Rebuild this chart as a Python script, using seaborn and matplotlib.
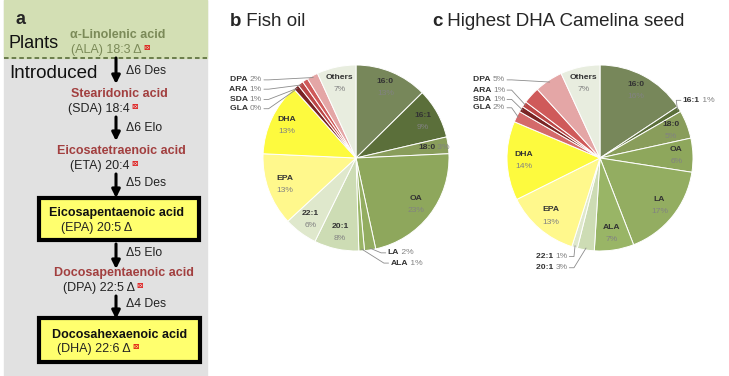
import numpy as np
import matplotlib
matplotlib.use("Agg")
import matplotlib.pyplot as plt
import seaborn as sns
from matplotlib.patches import Rectangle

sns.set_theme(style="white")
plt.rcParams['font.family'] = ['Liberation Sans', 'DejaVu Sans']

# ------------------------------------------------------------------------------
# DATA
# ------------------------------------------------------------------------------
fatty_acids = ["16:0", "16:1", "18:0", "OA", "LA", "ALA", "20:1", "22:1",
               "EPA", "DHA", "GLA", "SDA", "ARA", "ETA", "DPA", "Others"]
fish_oil_pct = [13, 9, 3, 23, 2, 1, 8, 6, 13, 13, 0, 1, 1, 1, 2, 7]
camelina_pct = [16, 1, 5, 6, 17, 7, 3, 1, 13, 14, 2, 1, 1, 3, 5, 7]

# pathway (panel a)
acid_names = ["α-Linolenic acid", "Stearidonic acid", "Eicosatetraenoic acid",
              "Eicosapentaenoic acid", "Docosapentaenoic acid", "Docosahexaenoic acid"]
acid_short = ["(ALA) 18:3 Δ", "(SDA) 18:4", "(ETA) 20:4",
              "(EPA) 20:5 Δ", "(DPA) 22:5 Δ", "(DHA) 22:6 Δ"]
enzymes = ["Δ6 Des", "Δ6 Elo", "Δ5 Des", "Δ5 Elo", "Δ4 Des"]

# ------------------------------------------------------------------------------
# STYLE
# ------------------------------------------------------------------------------
fa_colors = {
    "16:0": "#77875a", "16:1": "#5b6f3a", "18:0": "#899d5b", "OA": "#8ea75c",
    "LA": "#93ad61", "ALA": "#99b566", "20:1": "#cddcb4", "22:1": "#dfe8cc",
    "EPA": "#fff88c", "DHA": "#fdfa3e", "GLA": "#d46a6a", "SDA": "#7a2424",
    "ARA": "#bb4646", "ETA": "#cf5a5a", "DPA": "#e4a6a6", "Others": "#e8eddf",
}
name_color = "#333333"
pct_color = "#828282"
lab_fs = 6.1

fish_modes = {"16:0": "in", "16:1": "in", "18:0": "inline", "OA": "in", "LA": "out",
              "ALA": "out", "20:1": "in", "22:1": "in", "EPA": "in", "DHA": "in",
              "GLA": "out", "SDA": "out", "ARA": "out", "DPA": "out", "Others": "in"}
fish_out = {"LA": (0.34, -1.02), "ALA": (0.37, -1.13), "DPA": (-1.01, 0.84),
            "ARA": (-1.01, 0.74), "SDA": (-1.01, 0.63), "GLA": (-1.01, 0.53)}

cam_modes = {"16:0": "in", "16:1": "out", "18:0": "in", "OA": "in", "LA": "in",
             "ALA": "in", "20:1": "out", "22:1": "out", "EPA": "in", "DHA": "in",
             "GLA": "out", "SDA": "out", "ARA": "out", "DPA": "out", "Others": "in"}
cam_out = {"16:1": (0.89, 0.62), "22:1": (-0.35, -1.06), "20:1": (-0.35, -1.18),
           "DPA": (-1.02, 0.84), "ARA": (-1.02, 0.73), "SDA": (-1.02, 0.63),
           "GLA": (-1.02, 0.54)}


def draw_pie(ax, values, modes, out_pos):
    wedges, _ = ax.pie(values, startangle=90, counterclock=False,
                       colors=[fa_colors[f] for f in fatty_acids],
                       wedgeprops=dict(edgecolor="white", linewidth=0.7))
    ax.set_xlim(-1, 1)
    ax.set_ylim(-1, 1)
    ax.set_aspect("equal")
    ax.axis("off")
    for w, name, v in zip(wedges, fatty_acids, values):
        mode = modes.get(name)
        if mode is None:
            continue
        mid = np.deg2rad((w.theta1 + w.theta2) / 2)
        pct = f"{v}%"
        if mode == "in":
            x, y = 0.82 * np.cos(mid), 0.82 * np.sin(mid)
            ax.annotate(name, (x, y), xytext=(0, 4.4), textcoords="offset points",
                        ha="center", va="center", fontsize=lab_fs,
                        fontweight="bold", color=name_color)
            ax.annotate(pct, (x, y), xytext=(0, -4.4), textcoords="offset points",
                        ha="center", va="center", fontsize=lab_fs, color=pct_color)
        elif mode == "inline":
            x, y = 0.8 * np.cos(mid), 0.8 * np.sin(mid)
            t = ax.text(x + 0.06, y, name, ha="right", va="center", fontsize=lab_fs,
                        fontweight="bold", color=name_color)
            ax.annotate(" " + pct, (1, 0.5), xycoords=t, ha="left", va="center",
                        fontsize=lab_fs, color=pct_color)
        else:
            tx, ty = out_pos[name]
            ex, ey = np.cos(mid), np.sin(mid)
            if tx < 0:
                t = ax.text(tx, ty, pct, ha="right", va="center",
                            fontsize=lab_fs, color=pct_color)
                ax.annotate(name + " ", (0, 0.5), xycoords=t, ha="right", va="center",
                            fontsize=lab_fs, fontweight="bold", color=name_color)
                d = 1
            else:
                t = ax.text(tx, ty, name, ha="left", va="center", fontsize=lab_fs,
                            fontweight="bold", color=name_color)
                ax.annotate(" " + pct, (1, 0.5), xycoords=t, ha="left", va="center",
                            fontsize=lab_fs, color=pct_color)
                d = -1
            ax.plot([tx + d * 0.02, tx + d * 0.07, ex * 0.98],
                    [ty, ty, ey * 0.98], color="#8c8c8c", lw=0.6, clip_on=False)


# ------------------------------------------------------------------------------
# FIGURE
# ------------------------------------------------------------------------------
W, H = 729, 376
fig = plt.figure(figsize=(W / 100, H / 100), dpi=100)
ax0 = fig.add_axes([0, 0, 1, 1])
ax0.set_xlim(0, W)
ax0.set_ylim(H, 0)
ax0.axis("off")

# panel a background
ax0.add_patch(Rectangle((4, 0), 203, H, color="#e1e1e1", zorder=0))
ax0.add_patch(Rectangle((4, 0), 203, 58, color="#d3dfb4", zorder=0))
ax0.plot([4, 207], [58, 58], color="#4f6230", lw=1.1, dashes=(3, 2))
ax0.add_patch(Rectangle((39, 198), 160, 42, facecolor="#ffff6e", edgecolor="black", lw=3))
ax0.add_patch(Rectangle((39, 318), 161, 44, facecolor="#ffff6e", edgecolor="black", lw=3))

ax0.text(16, 20, "a", fontsize=13, fontweight="bold", ha="left", va="center")
ax0.text(9, 44, "Plants", fontsize=13, ha="left", va="center", color="#111111")
ax0.text(9, 73, "Introduced", fontsize=13.5, ha="left", va="center", color="#111111")

name_y = [35, 94, 151, 213, 273, 335]
name_x = [118, 119, 121, 117, 124, 120]
short_y = [50, 109, 166, 228, 288, 349]
short_x = [71, 68, 70, 61, 63, 57]
name_cols = ["#7b8a58", "#a23f3f", "#a23f3f", "#111111", "#a23f3f", "#111111"]
short_cols = ["#7b8a58", "#222222", "#222222", "#222222", "#222222", "#222222"]
has_icon = [True, True, True, False, True, True]
for nm, sh, nx, ny, sx, sy, nc, sc, ic in zip(acid_names, acid_short, name_x, name_y,
                                              short_x, short_y, name_cols, short_cols, has_icon):
    ax0.text(nx, ny, nm, fontsize=9, fontweight="bold", color=nc, ha="center", va="center")
    t = ax0.text(sx, sy, sh, fontsize=9, color=sc, ha="left", va="center")
    if ic:
        ax0.annotate("⊠", (1, 1), xycoords=t, xytext=(1, 1), textcoords="offset points",
                     ha="left", va="top", fontsize=5.5, color="#e01010",
                     family="DejaVu Sans", fontweight="bold")

arrow_y = [(58, 84), (117, 141), (174, 198), (244, 269), (296, 319)]
enz_y = [71, 128, 183, 253, 304]
for (y0, y1), ey, ez in zip(arrow_y, enz_y, enzymes):
    ax0.annotate("", xy=(116, y1), xytext=(116, y0),
                 arrowprops=dict(arrowstyle="-|>", lw=2.2, color="black",
                                 mutation_scale=12, shrinkA=0, shrinkB=0))
    ax0.text(126, ey, ez, fontsize=8.8, color="#222222", ha="left", va="center")

# titles
tb = ax0.text(230, 21, "b", fontsize=13.5, fontweight="bold", ha="left", va="center")
ax0.annotate(" Fish oil", (1, 0.5), xycoords=tb, ha="left", va="center", fontsize=13.5)
tc = ax0.text(432, 21, "c", fontsize=13.5, fontweight="bold", ha="left", va="center")
ax0.annotate(" Highest DHA Camelina seed", (1, 0.5), xycoords=tc, ha="left",
             va="center", fontsize=13.5)

# pies: centre / radius in pixels
R = 93
ax_b = fig.add_axes([(356 - R) / W, (H - 158 - R) / H, 2 * R / W, 2 * R / H])
draw_pie(ax_b, fish_oil_pct, fish_modes, fish_out)
ax_c = fig.add_axes([(600 - R) / W, (H - 158 - R) / H, 2 * R / W, 2 * R / H])
draw_pie(ax_c, camelina_pct, cam_modes, cam_out)

fig.savefig("out.png", dpi=100)
